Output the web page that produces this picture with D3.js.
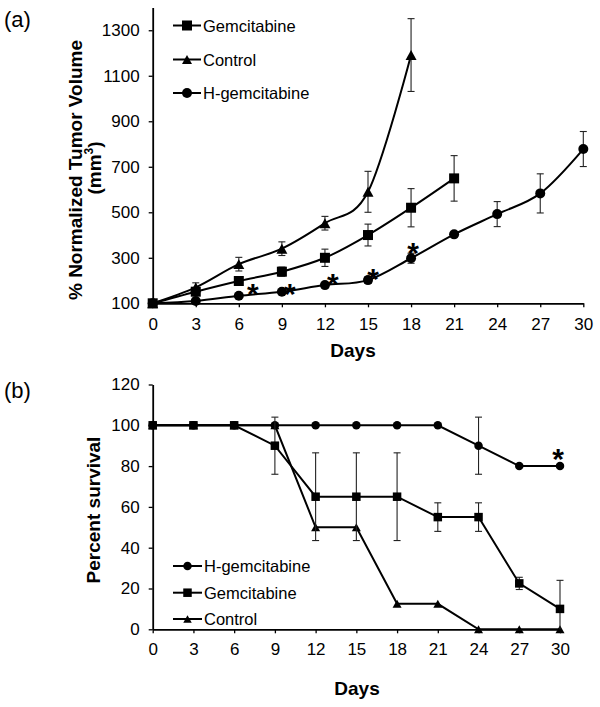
<!DOCTYPE html>
<html>
<head>
<meta charset="utf-8">
<script src="https://cdn.jsdelivr.net/npm/d3@7"></script>
<style>
  html, body { margin: 0; padding: 0; background: #fff; }
  svg { display: block; font-family: "Liberation Sans", Arial, sans-serif; }
</style>
</head>
<body>
<svg id="chart" width="600" height="707"></svg>
<script>
// ---------- DATA ----------
// Panel (a): % normalized tumor volume
const daysA = [0, 3, 6, 9, 12, 15, 18, 21, 24, 27, 30];
const gemA = [100, 151, 198, 239, 300, 400, 520, 649];
const gemAErr = [0, 8, 12, 20, 38, 48, 84, 100];
const ctrlA = [100, 170, 272, 340, 452, 590, 1191];
const ctrlAErr = [0, 20, 30, 30, 30, 90, 160];
const hgemA = [100, 110, 133, 151, 180, 202, 298, 403, 492, 583, 778];
const hgemAErr = [0, 5, 8, 8, 8, 15, 22, 10, 55, 86, 77];
const starDaysA = [6, 9, 12, 15, 18];
const yTicksA = [100, 300, 500, 700, 900, 1100, 1300];

// Panel (b): percent survival
const daysB = [0, 3, 6, 9, 12, 15, 18, 21, 24, 27, 30];
const hgemB = [100, 100, 100, 100, 100, 100, 100, 100, 90, 80, 80];
const hgemBErr = [0, 0, 0, 0, 0, 0, 0, 0, 14, 0, 0];
const gemB = [100, 100, 100, 90, 65, 65, 65, 55, 55, 22.5, 10];
const gemBErr = [0, 0, 0, 14, 21.5, 21.5, 21.5, 7, 7, 3, 14];
const ctrlB = [100, 100, 100, 100, 50, 50, 12.5, 12.5, 0, 0, 0];
const starDaysB = [30];
const yTicksB = [0, 20, 40, 60, 80, 100, 120];
const xTicks = [0, 3, 6, 9, 12, 15, 18, 21, 24, 27, 30];

// ---------- SETUP ----------
const svg = d3.select("#chart");
const FONT = '"Liberation Sans", Arial, sans-serif';

function marker(g, shape, x, y, size) {
  if (shape === "square") {
    g.append("rect").attr("x", x - size / 2).attr("y", y - size / 2)
      .attr("width", size).attr("height", size).attr("fill", "#000");
  } else if (shape === "circle") {
    g.append("circle").attr("cx", x).attr("cy", y).attr("r", size / 2).attr("fill", "#000");
  } else {
    const h = size * 0.9;
    g.append("path").attr("d", `M${x - size / 2},${y + h / 2}L${x + size / 2},${y + h / 2}L${x},${y - h / 2}Z`)
      .attr("fill", "#000");
  }
}

function drawSeries(g, x, y, days, vals, errs, shape, size, curve, yMin) {
  const pts = vals.map((v, i) => ({ d: days[i], v: v, e: errs ? errs[i] : 0 }));
  pts.forEach(p => {
    if (!p.e) return;
    const lo = Math.max(yMin, p.v - p.e), hi = p.v + p.e;
    const cx = x(p.d);
    g.append("line").attr("x1", cx).attr("x2", cx).attr("y1", y(lo)).attr("y2", y(hi))
      .attr("stroke", "#222").attr("stroke-width", 1.1);
    [lo, hi].forEach(val => {
      if (val === yMin && p.v - p.e < yMin) return;
      g.append("line").attr("x1", cx - 3.5).attr("x2", cx + 3.5).attr("y1", y(val)).attr("y2", y(val))
        .attr("stroke", "#222").attr("stroke-width", 1.1);
    });
  });
  const line = d3.line().x(p => x(p.d)).y(p => y(p.v)).curve(curve);
  g.append("path").attr("d", line(pts)).attr("fill", "none").attr("stroke", "#000").attr("stroke-width", 2);
  pts.forEach(p => marker(g, shape, x(p.d), y(p.v), size));
}

function styleAxis(g) {
  g.selectAll("path.domain").attr("stroke", "#000").attr("stroke-width", 1.8);
  g.selectAll(".tick line").attr("stroke", "#000").attr("stroke-width", 1.3);
  g.selectAll("text").attr("font-family", FONT).attr("font-size", 17).attr("fill", "#000");
}

function legend(g, items, x0, x1, ys, size) {
  items.forEach((it, i) => {
    const y = ys[i];
    g.append("line").attr("x1", x0).attr("x2", x1).attr("y1", y).attr("y2", y)
      .attr("stroke", "#000").attr("stroke-width", 2);
    marker(g, it.shape, (x0 + x1) / 2, y, size);
    g.append("text").attr("x", x1 + 2).attr("y", y + 6).text(it.name)
      .attr("font-family", FONT).attr("font-size", 16.5).attr("fill", "#000");
  });
}

function star(g, cx, cy) {
  g.append("text").attr("x", cx).attr("y", cy + 17).attr("text-anchor", "middle")
    .attr("font-family", FONT).attr("font-size", 30).attr("font-weight", "bold").attr("fill", "#000").text("*");
}

const fmt = d3.format("d");

// ---------- PANEL (a) ----------
const xA = d3.scaleLinear().domain([0, 30]).range([152.7, 583.3]);
const yA = d3.scaleLinear().domain([100, 1400]).range([303.3, 7.5]);
const gA = svg.append("g");

gA.append("g").attr("transform", `translate(0,${yA(100)})`)
  .call(d3.axisBottom(xA).tickValues(xTicks).tickFormat(fmt).tickSize(4).tickSizeOuter(0).tickPadding(10.5))
  .call(styleAxis);
gA.append("g").attr("transform", `translate(${xA(0)},0)`)
  .call(d3.axisLeft(yA).tickValues(yTicksA).tickFormat(fmt).tickSize(4).tickSizeOuter(0).tickPadding(9))
  .call(styleAxis);

const smooth = d3.curveCardinal.tension(0);
drawSeries(gA, xA, yA, daysA, ctrlA, ctrlAErr, "triangle", 11, smooth, 100);
drawSeries(gA, xA, yA, daysA, hgemA, hgemAErr, "circle", 10, smooth, 100);
drawSeries(gA, xA, yA, daysA, gemA, gemAErr, "square", 10, smooth, 100);

const starOffA = [[14, -9], [8, -5], [8, -8], [5, -8], [2, -12]];
starDaysA.forEach((d, i) => {
  const idx = daysA.indexOf(d);
  star(gA, xA(d) + starOffA[i][0], yA(hgemA[idx]) + starOffA[i][1]);
});

legend(gA, [{ name: "Gemcitabine", shape: "square" }, { name: "Control", shape: "triangle" },
            { name: "H-gemcitabine", shape: "circle" }], 173, 201, [25.5, 59.5, 93], 10);

gA.append("text").attr("transform", "translate(82,170) rotate(-90)").attr("text-anchor", "middle")
  .attr("font-family", FONT).attr("font-size", 19).attr("font-weight", "bold").text("% Normalized Tumor Volume");
const mm = gA.append("text").attr("transform", "translate(101,168) rotate(-90)").attr("text-anchor", "middle")
  .attr("font-family", FONT).attr("font-size", 19).attr("font-weight", "bold");
mm.append("tspan").text("(mm");
mm.append("tspan").attr("font-size", 12).attr("dy", -8).text("3");
mm.append("tspan").attr("dy", 8).text(")");

gA.append("text").attr("x", 353).attr("y", 356.5).attr("text-anchor", "middle")
  .attr("font-family", FONT).attr("font-size", 19).attr("font-weight", "bold").text("Days");
gA.append("text").attr("x", 4).attr("y", 27).attr("font-family", FONT).attr("font-size", 22).text("(a)");

// ---------- PANEL (b) ----------
const xB = d3.scaleLinear().domain([0, 30]).range([152.7, 560]);
const yB = d3.scaleLinear().domain([0, 120]).range([629.3, 384.5]);
const gB = svg.append("g");

gB.append("g").attr("transform", `translate(0,${yB(0)})`)
  .call(d3.axisBottom(xB).tickValues(xTicks).tickFormat(fmt).tickSize(4).tickSizeOuter(0).tickPadding(10))
  .call(styleAxis);
gB.append("g").attr("transform", `translate(${xB(0)},0)`)
  .call(d3.axisLeft(yB).tickValues(yTicksB).tickFormat(fmt).tickSize(4).tickSizeOuter(0).tickPadding(9))
  .call(styleAxis);

drawSeries(gB, xB, yB, daysB, ctrlB, null, "triangle", 9, d3.curveLinear, 0);
drawSeries(gB, xB, yB, daysB, hgemB, hgemBErr, "circle", 8.5, d3.curveLinear, 0);
drawSeries(gB, xB, yB, daysB, gemB, gemBErr, "square", 8.5, d3.curveLinear, 0);

starDaysB.forEach(d => {
  const idx = daysB.indexOf(d);
  star(gB, xB(d) - 2, yB(hgemB[idx]) - 14);
});

legend(gB, [{ name: "H-gemcitabine", shape: "circle" }, { name: "Gemcitabine", shape: "square" },
            { name: "Control", shape: "triangle" }], 173, 202, [566, 592.7, 619], 8.5);

gB.append("text").attr("transform", "translate(100,510) rotate(-90)").attr("text-anchor", "middle")
  .attr("font-family", FONT).attr("font-size", 19).attr("font-weight", "bold").text("Percent survival");
gB.append("text").attr("x", 357).attr("y", 695).attr("text-anchor", "middle")
  .attr("font-family", FONT).attr("font-size", 19).attr("font-weight", "bold").text("Days");
gB.append("text").attr("x", 4).attr("y", 398).attr("font-family", FONT).attr("font-size", 22).text("(b)");
</script>
</body>
</html>
